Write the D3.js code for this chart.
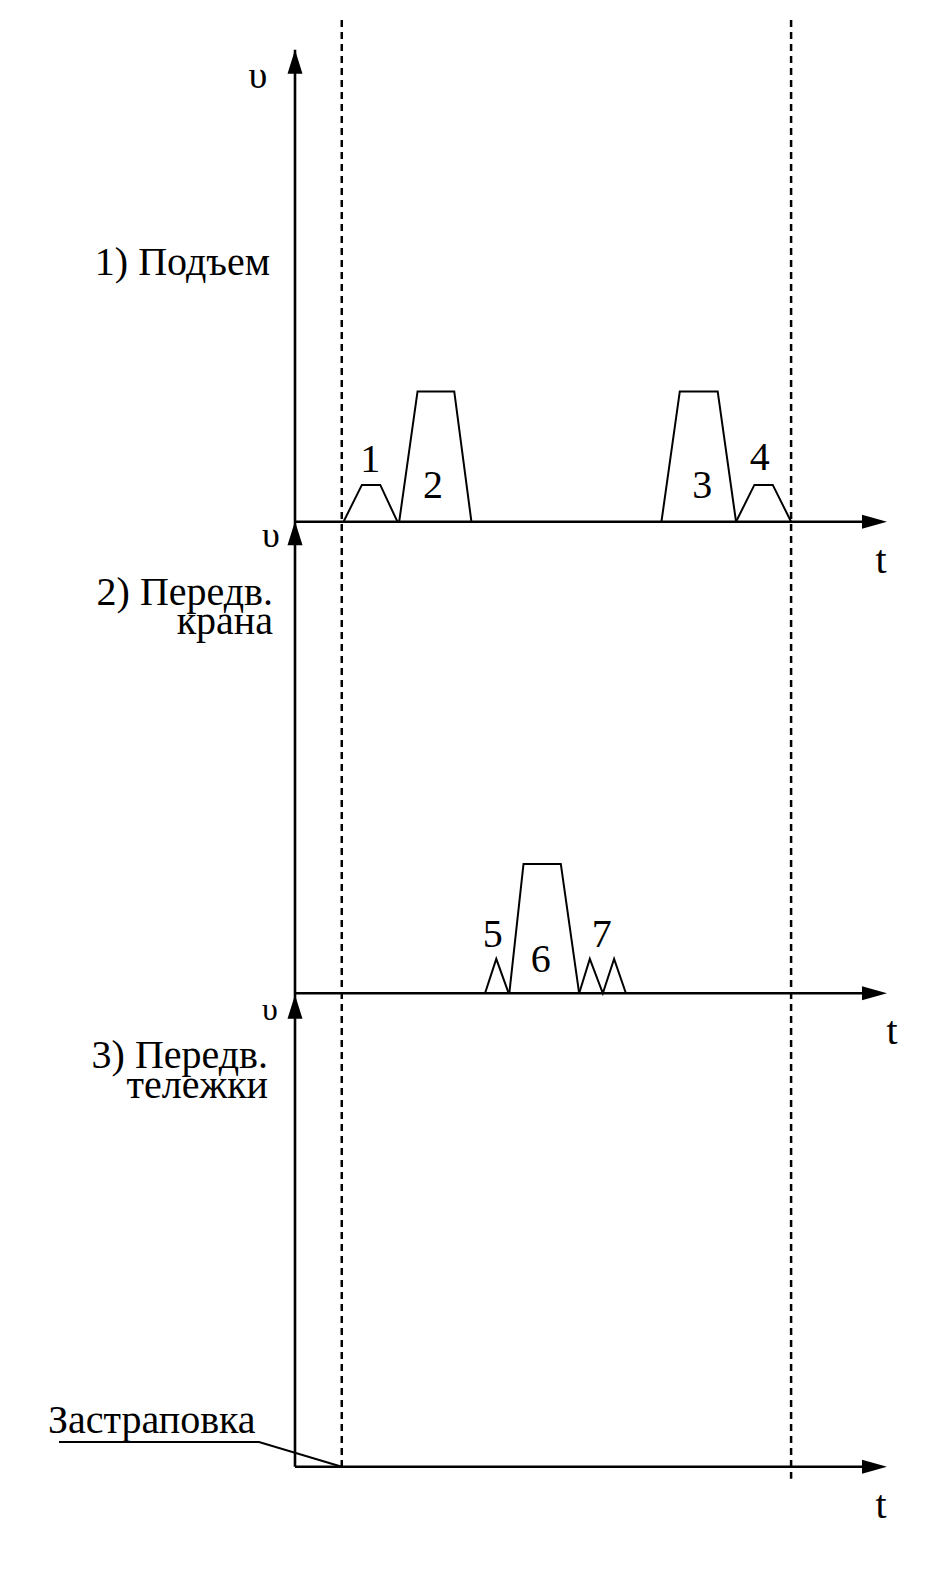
<!DOCTYPE html>
<html>
<head>
<meta charset="utf-8">
<script src="https://cdn.jsdelivr.net/npm/d3@7"></script>
</head>
<body style="margin:0">
<script>
// panel titles (one line per entry)
var panelTitles = [["1) Подъем"], ["2) Передв.", "крана"], ["3) Передв.", "тележки"]];
var speedSymbol = "υ";
var timeSymbol = "t";
var slingLabel = "Застраповка";

// pulses: time points (0..100 along the t axis) and speeds (0..100 of the v axis)
var pulseNames = ["1", "2", "3", "4", "5", "6", "7"];
var pulsePanel = [0, 0, 0, 0, 1, 1, 1];
var pulseTimes = [
  [8.2, 11.3, 14.4, 17.3],
  [17.6, 20.7, 26.9, 29.8],
  [61.9, 65.0, 71.4, 74.5],
  [74.5, 77.6, 80.7, 83.8],
  [32.1, 34.0, 36.1],
  [36.2, 38.6, 44.9, 48.0],
  [48.0, 49.8, 52.0, 53.9, 55.9]
];
var pulseSpeeds = [
  [0, 7.8, 7.8, 0],
  [0, 27.6, 27.6, 0],
  [0, 27.6, 27.6, 0],
  [0, 7.8, 7.8, 0],
  [0, 7.3, 0],
  [0, 27.4, 27.4, 0],
  [0, 7.3, 0, 7.3, 0]
];
var labelTimes = [12.7, 23.3, 68.8, 78.5, 33.4, 41.5, 51.8];
var labelSpeeds = [10.6, 5.0, 5.0, 11.0, 9.9, 4.6, 9.9];

// start and end of the working cycle (dashed lines)
var cycleBounds = [7.9, 83.8];

var FONT = "'Liberation Serif', 'Times New Roman', monospace";
var W = 945, H = 1573;
var svg = d3.select("body").append("svg")
  .attr("width", W)
  .attr("height", H);

var x = d3.scaleLinear().domain([0, 100]).range([295, 887]);
var baselines = [521.7, 993.3, 1466.7];
var panelH = 472;
var y = baselines.map(function (b) {
  return d3.scaleLinear().domain([0, 100]).range([b, b - panelH]);
});

function label(px, py, s, size, anchor) {
  return svg.append("text")
    .attr("x", px).attr("y", py)
    .attr("font-family", FONT)
    .attr("font-size", size)
    .attr("text-anchor", anchor || "start")
    .attr("fill", "black")
    .text(s);
}

// dashed cycle lines
svg.append("line")
  .attr("x1", x(cycleBounds[0])).attr("x2", x(cycleBounds[0]))
  .attr("y1", 20).attr("y2", baselines[2])
  .attr("stroke", "black").attr("stroke-width", 2.5)
  .attr("stroke-dasharray", "7,5");
svg.append("line")
  .attr("x1", x(cycleBounds[1])).attr("x2", x(cycleBounds[1]))
  .attr("y1", 20).attr("y2", baselines[2] + 12)
  .attr("stroke", "black").attr("stroke-width", 2.5)
  .attr("stroke-dasharray", "7,5");

// vertical axis (one long line)
svg.append("line")
  .attr("x1", x(0)).attr("x2", x(0))
  .attr("y1", y[0](100)).attr("y2", baselines[2])
  .attr("stroke", "black").attr("stroke-width", 2.6);

var symDx = [-37, -24, -25], symDy = [38, 26, 25], symSize = [38, 36, 32];
baselines.forEach(function (b, i) {
  var x0 = x(0), top = y[i](100);
  // time axis
  svg.append("line")
    .attr("x1", x0).attr("x2", x(100) - 10)
    .attr("y1", b).attr("y2", b)
    .attr("stroke", "black").attr("stroke-width", 2.6);
  // arrow heads
  svg.append("path")
    .attr("d", "M" + x(100) + "," + b + " L" + (x(100) - 25) + "," + (b - 7) + " L" + (x(100) - 25) + "," + (b + 7) + "Z")
    .attr("fill", "black");
  svg.append("path")
    .attr("d", "M" + x0 + "," + top + " L" + (x0 - 7.5) + "," + (top + 24) + " L" + (x0 + 7.5) + "," + (top + 24) + "Z")
    .attr("fill", "black");
  // symbols
  label(x0 + symDx[i], top + symDy[i], speedSymbol, symSize[i], "middle");
  label(i == 1 ? 892 : 881, b + 51, timeSymbol, 40, "middle");
});

// panel titles
var titleY = [[275], [605, 634], [1068, 1098]];
var titleX = [270, 273, 268];
panelTitles.forEach(function (lines, i) {
  lines.forEach(function (s, j) {
    label(titleX[i], titleY[i][j], s, 40, "end");
  });
});

// pulses
var line = d3.line();
pulseNames.forEach(function (name, k) {
  var p = pulsePanel[k];
  var pts = pulseTimes[k].map(function (t, j) { return [x(t), y[p](pulseSpeeds[k][j])]; });
  svg.append("path")
    .attr("d", line(pts))
    .attr("fill", "none")
    .attr("stroke", "black")
    .attr("stroke-width", 2)
    .attr("stroke-linejoin", "miter");
  label(x(labelTimes[k]), y[p](labelSpeeds[k]), name, 40, "middle");
});

// sling label with leader line
label(48, 1433, slingLabel, 40);
svg.append("path")
  .attr("d", line([[59, 1442], [259, 1442], [x(cycleBounds[0]), baselines[2]]]))
  .attr("fill", "none")
  .attr("stroke", "black")
  .attr("stroke-width", 2);
</script>
</body>
</html>
